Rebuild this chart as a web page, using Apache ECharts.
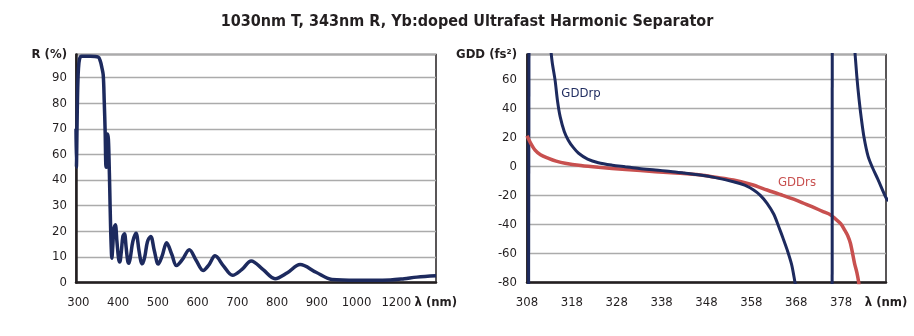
<!DOCTYPE html>
<html>
<head>
<meta charset="utf-8">
<script src="https://cdn.jsdelivr.net/npm/echarts@6/dist/echarts.min.js"></script>
<style>
html,body{margin:0;padding:0;background:#fff;}
#c{width:914px;height:336px;}
</style>
</head>
<body>
<div id="c"></div>
<script>
// ---------- Data ----------
const titleText = '1030nm T, 343nm R, Yb:doped Ultrafast Harmonic Separator';

// Left chart: reflectance R (%) vs wavelength (nm)
const reflLambda = [294, 295, 296.5, 298, 300, 303, 308, 330, 350, 355, 359, 362.5, 365, 367.5, 369, 370.5, 372, 373.5, 375.5, 377, 379, 381, 382.6, 384.2, 386.5, 389.5, 393, 397, 401, 404, 408, 412, 416, 420, 424, 427, 431, 437, 445, 452, 457, 461, 467, 474, 482, 491, 501, 511, 522, 535, 547, 562, 579, 597, 614, 629, 644, 665, 688, 711, 735, 765, 795, 826, 858, 898, 938, 1001, 1080, 1170, 1240, 1304, 1400];
const reflR =      [70, 50, 70, 84, 93, 97.3, 98.3, 98.3, 98, 96.5, 94, 91, 81, 68, 52, 50, 60, 68, 66, 58, 36, 22, 14, 9.5, 14, 21, 22.5, 16, 9.5, 8, 12, 18, 19, 14, 8.5, 7.5, 10, 16, 19.2, 13, 8.5, 7.3, 10, 16, 18, 12.5, 7.2, 10.5, 15.5, 11, 6.6, 9, 12.8, 8.5, 4.7, 7, 10.4, 6.5, 2.8, 5, 8.4, 5, 1.5, 3.8, 7, 4, 1.2, 0.9, 0.9, 1.0, 1.5, 2.1, 2.6];

// Left axis tick labels
const leftXTicks = [300, 400, 500, 600, 700, 800, 900, 1000, 1200];
const leftYTicks = [0, 10, 20, 30, 40, 60, 70, 80, 90];

// Right chart: GDD (fs^2) vs wavelength (nm)
const gddrpPole1 = [[308.35, -95], [308.45, 95]];
const gddrpLambda = [313.0, 313.6, 314.25, 314.8, 315.4, 316.3, 317.2, 318.3, 319.5, 321.5, 323.9, 327, 329.9, 333, 336.6, 340, 343, 346.6, 350, 354, 356.5, 358.5, 360, 361.5, 363, 364.1, 365, 366, 367, 367.7, 368.2];
const gddrpValue  = [90, 72, 59.5, 45, 34, 24, 18, 13, 9, 5, 2.5, 0.8, -0.3, -1.5, -2.5, -3.5, -4.6, -6, -7.8, -10.6, -13, -16.3, -20, -25.5, -33, -41.6, -49, -57.7, -68, -79.6, -88];
const gddrpPole2 = [[376.0, -95], [376.02, 95]];
const gddrpRightLambda = [380.8, 381.5, 382, 382.5, 383.1, 384, 385, 386.2, 387.9, 388.5];
const gddrpRightValue  = [90, 62, 46, 33, 20, 7, -1, -9, -21, -24];

const gddrsLambda = [308, 308.8, 309.8, 311, 312.8, 314.5, 316.5, 320, 323.9, 330, 336.6, 342, 346.6, 350, 354, 358, 361.5, 365, 368.9, 372, 374.1, 375.6, 376.4, 377.9, 378.8, 379.5, 380.1, 381, 381.5, 381.9, 382.2];
const gddrsValue  = [21, 16, 11.2, 8, 5.5, 3.6, 2.1, 0.5, -0.7, -2.2, -3.7, -4.8, -6, -7.5, -9.4, -12.5, -16.3, -20, -24.4, -28.5, -31.3, -33.3, -35.3, -39.5, -44, -48, -53.3, -67, -73, -79.6, -88];

const rightXTicks = [308, 318, 328, 338, 348, 358, 368, 378];
const rightYTicks = [-80, -60, -40, -20, 0, 20, 40, 60];

// ---------- Axis transforms (broken axes in the original) ----------
function uX(l) { return l <= 1000 ? l : 1000 + (l - 1000) / 2; }
function tY(r) { return r <= 40 ? r : (r >= 60 ? r - 10 : 40 + (r - 40) / 2); }
function xLabelLeft(u) { return u <= 1000 ? u : 1000 + (u - 1000) * 2; }
function yLabelLeft(t) { return t <= 40 ? t : t + 10; }

const NAVY = '#1d2a5e';
const RED = '#c8504f';
const TXT = '#231f20';
const FONT = '"Liberation Sans Narrow", "DejaVu Sans Condensed", "Liberation Sans", sans-serif';

const reflData = reflLambda.map((l, i) => [uX(l), tY(reflR[i])]);
const rpData = gddrpLambda.map((l, i) => [l, gddrpValue[i]]);
const rpRight = gddrpRightLambda.map((l, i) => [l, gddrpRightValue[i]]);
const rsData = gddrsLambda.map((l, i) => [l, gddrsValue[i]]);

const LEFT_XMIN = 294, LEFT_XMAX = uX(1400);
const LEFT_YMAX = 89;
const RIGHT_YMAX = 77;

const FS = 13;
const labelBase = {color: TXT, fontFamily: FONT, fontSize: FS, rich: {b: {fontFamily: FONT, fontSize: FS, fontWeight: 'bold', color: TXT}}};

const chart = echarts.init(document.getElementById('c'), null, {renderer: 'canvas'});
chart.setOption({
  animation: false,
  backgroundColor: '#fff',
  graphic: [
    {type: 'text', x: 467, y: 22, style: {text: titleText, align: 'center', verticalAlign: 'middle', font: 'bold 16px ' + FONT, fill: TXT}},
    {type: 'text', x: 581, y: 94, style: {text: 'GDDrp', align: 'center', verticalAlign: 'middle', font: '13px ' + FONT, fill: NAVY}},
    {type: 'text', x: 797, y: 183, style: {text: 'GDDrs', align: 'center', verticalAlign: 'middle', font: '13px ' + FONT, fill: RED}}
  ],
  grid: [
    {left: 76, top: 54.5, width: 360, height: 228, show: true, borderColor: TXT, borderWidth: 1.5, containLabel: false},
    {left: 527, top: 54.5, width: 359, height: 228, show: true, borderColor: TXT, borderWidth: 1.5, containLabel: false}
  ],
  xAxis: [
    {
      type: 'value', gridIndex: 0, min: LEFT_XMIN, max: LEFT_XMAX,
      axisLine: {show: true, onZero: false, lineStyle: {color: TXT, width: 2.5}},
      axisTick: {show: false}, splitLine: {show: false},
      axisLabel: Object.assign({}, labelBase, {
        margin: 14,
        customValues: leftXTicks.map(uX).concat([LEFT_XMAX - 0.5]),
        formatter: v => (v > LEFT_XMAX - 50 ? '{b|λ (nm)}' : String(xLabelLeft(v)))
      })
    },
    {
      type: 'value', gridIndex: 1, min: 308, max: 388, interval: 10,
      axisLine: {show: true, onZero: false, lineStyle: {color: TXT, width: 2.5}},
      axisTick: {show: false}, splitLine: {show: false},
      axisLabel: Object.assign({}, labelBase, {
        margin: 14,
        formatter: v => (v >= 388 ? '{b|λ (nm)}' : (rightXTicks.indexOf(v) >= 0 ? String(v) : ''))
      })
    }
  ],
  yAxis: [
    {
      type: 'value', gridIndex: 0, min: 0, max: LEFT_YMAX, interval: 10,
      axisLine: {show: true, onZero: false, lineStyle: {color: TXT, width: 2.5}},
      axisTick: {show: false},
      splitLine: {show: true, lineStyle: {color: '#ababab', width: 1.3}},
      axisLabel: Object.assign({}, labelBase, {
        margin: 9,
        formatter: v => (v >= LEFT_YMAX ? '{b|R (%)}' : (leftYTicks.indexOf(yLabelLeft(v)) >= 0 ? String(yLabelLeft(v)) : ''))
      })
    },
    {
      type: 'value', gridIndex: 1, min: -80, max: RIGHT_YMAX, interval: 20,
      axisLine: {show: true, onZero: false, lineStyle: {color: TXT, width: 2.5}},
      axisTick: {show: false},
      splitLine: {show: true, lineStyle: {color: '#ababab', width: 1.3}},
      axisLabel: Object.assign({}, labelBase, {
        margin: 10,
        formatter: v => (v >= RIGHT_YMAX ? '{b|GDD (fs²)}' : (rightYTicks.indexOf(v) >= 0 ? String(v) : ''))
      })
    }
  ],
  series: [
    {type: 'line', xAxisIndex: 0, yAxisIndex: 0, data: reflData, showSymbol: false, smooth: 0.35, clip: true,
     lineStyle: {color: NAVY, width: 3.5}},
    {type: 'line', xAxisIndex: 1, yAxisIndex: 1, data: gddrpPole1, showSymbol: false, clip: true,
     lineStyle: {color: NAVY, width: 3}},
    {type: 'line', xAxisIndex: 1, yAxisIndex: 1, data: rsData, showSymbol: false, smooth: 0.3, clip: true,
     lineStyle: {color: RED, width: 3.5}},
    {type: 'line', xAxisIndex: 1, yAxisIndex: 1, data: rpData, showSymbol: false, smooth: 0.3, clip: true,
     lineStyle: {color: NAVY, width: 3}},
    {type: 'line', xAxisIndex: 1, yAxisIndex: 1, data: gddrpPole2, showSymbol: false, clip: true,
     lineStyle: {color: NAVY, width: 3}},
    {type: 'line', xAxisIndex: 1, yAxisIndex: 1, data: rpRight, showSymbol: false, smooth: 0.3, clip: true,
     lineStyle: {color: NAVY, width: 3}}
  ]
});
</script>
</body>
</html>
